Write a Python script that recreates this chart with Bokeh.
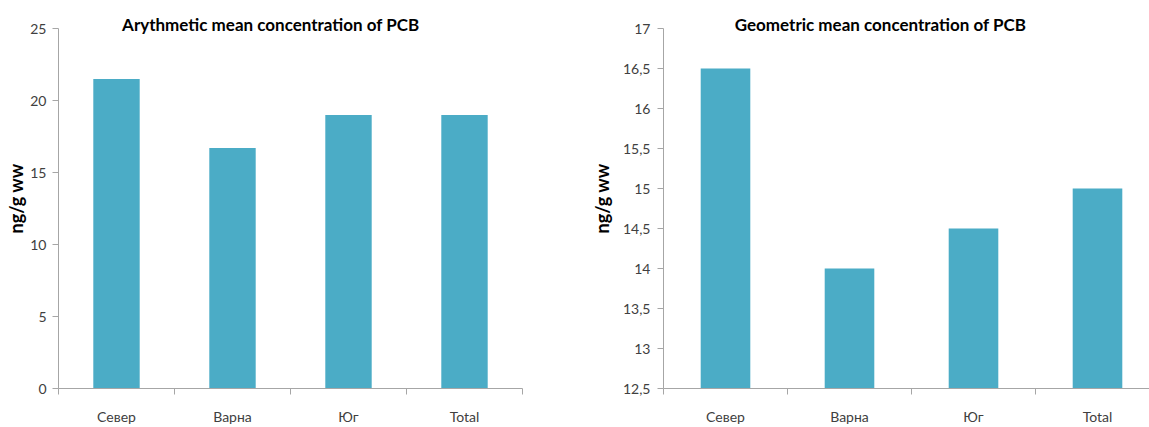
from bokeh.plotting import figure
from bokeh.layouts import row
from bokeh.models import (Range1d, FixedTicker, CustomJSTickFormatter, Label,
                          ColumnDataSource)
from bokeh.embed import file_html
from bokeh.resources import INLINE

# ---- data ----
categories = ["Север", "Варна", "Юг", "Total"]
arith_mean = [21.5, 16.7, 19.0, 19.0]
geom_mean = [16.5, 14.0, 14.5, 15.0]
arith_ticks = [0, 5, 10, 15, 20, 25]
geom_ticks = [12.5, 13, 13.5, 14, 14.5, 15, 15.5, 16, 16.5, 17]
titles = ["Arythmetic mean concentration of PCB", "Geometric mean concentration of PCB"]
y_label = "ng/g ww"

BAR = "#4BACC6"
AXIS = "#a6a6a6"
TICKTXT = "#404040"
FONT = "Lato"

FIG_H = 427
TOP = 8          # frame top (px)
AXIS_TOP = 28    # pixel where the top tick sits
BOTTOM = 39      # bottom border


def make_chart(values, yticks, title, width, left, right, x_end, title_x,
               label_standoff, tick_standoff):
    frame_h = FIG_H - TOP - BOTTOM
    axis_h = frame_h - (AXIS_TOP - TOP)
    span = yticks[-1] - yticks[0]
    y_end = yticks[-1] + (AXIS_TOP - TOP) * span / axis_h

    p = figure(width=width, height=FIG_H, output_backend="svg", toolbar_location=None,
               x_range=Range1d(0, x_end), y_range=Range1d(yticks[0], y_end),
               min_border_left=left, min_border_right=right,
               min_border_top=TOP, min_border_bottom=BOTTOM)
    p.outline_line_color = None
    p.grid.visible = False
    p.background_fill_color = "white"
    p.border_fill_color = "white"

    xs = [i + 0.5 for i in range(len(categories))]
    src = ColumnDataSource(dict(x=xs, top=values, cat=categories))
    p.vbar(x="x", top="top", bottom=0, width=0.4, source=src,
           fill_color=BAR, line_color=None)

    # x axis: labels at centers, ticks on category boundaries
    xa = p.xaxis[0]
    xa.ticker = FixedTicker(ticks=xs, minor_ticks=list(range(len(categories) + 1)))
    xa.formatter = CustomJSTickFormatter(args=dict(cats=categories),
                                         code="return cats[Math.floor(tick)] || '';")
    xa.major_tick_out = 0
    xa.major_tick_in = 0
    xa.minor_tick_out = 6
    xa.minor_tick_in = 0
    xa.minor_tick_line_color = AXIS
    xa.axis_line_color = AXIS
    xa.major_label_standoff = 13
    xa.major_label_text_font = FONT
    xa.major_label_text_font_size = "14px"
    xa.major_label_text_color = TICKTXT

    ya = p.yaxis[0]
    ya.ticker = FixedTicker(ticks=yticks)
    ya.bounds = (yticks[0], yticks[-1])
    ya.formatter = CustomJSTickFormatter(code="return tick.toString().replace('.', ',');")
    ya.minor_tick_line_color = None
    ya.major_tick_out = 6
    ya.major_tick_in = 0
    ya.major_tick_line_color = AXIS
    ya.axis_line_color = AXIS
    ya.major_label_standoff = tick_standoff
    ya.major_label_text_font = FONT
    ya.major_label_text_font_size = "14px"
    ya.major_label_text_color = TICKTXT
    ya.axis_label = y_label
    ya.axis_label_text_font = FONT
    ya.axis_label_text_font_style = "bold"
    ya.axis_label_text_font_size = "18px"
    ya.axis_label_text_color = "black"
    ya.axis_label_standoff = label_standoff

    t = Label(x=title_x, y=yticks[-1], y_offset=4, text=title,
              text_font=FONT, text_font_style="bold", text_font_size="17px",
              text_color="black", text_align="center", text_baseline="middle")
    p.add_layout(t)
    return p


W1 = 560
p1 = make_chart(arith_mean, arith_ticks, titles[0], width=W1, left=58, right=W1 - 58 - 464,
                x_end=4, title_x=1.83, label_standoff=0, tick_standoff=6)
p2 = make_chart(geom_mean, geom_ticks, titles[1], width=1149 - W1, left=663 - W1, right=0,
                x_end=(1149 - 663) / 124, title_x=1.75, label_standoff=7, tick_standoff=7)

layout = row(p1, p2, spacing=0)
open("out.html", "w").write(file_html(layout, INLINE))
